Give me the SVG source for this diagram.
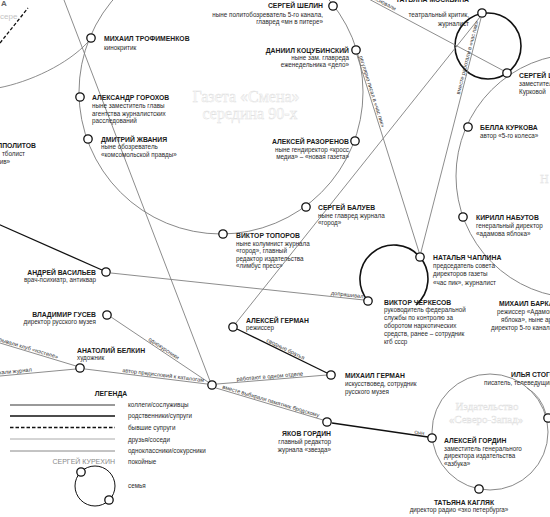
<svg xmlns="http://www.w3.org/2000/svg" width="550" height="517" viewBox="0 0 550 517">
<style>
text{font-family:"Liberation Sans",Arial,sans-serif;fill:#1a1a1a}
.nm{font-size:6.8px;font-weight:bold}
.sb{font-size:6.3px;fill:#2a2a2a}
.lb{font-size:5.6px;fill:#333}
.e{text-anchor:end}
.m{text-anchor:middle}
.nd{fill:#fff;stroke:#111;stroke-width:1.3}
.ring{fill:none;stroke:#7a7a7a;stroke-width:0.9}
.fam{fill:none;stroke:#111;stroke-width:1.6}
.g{fill:none;stroke:#808080;stroke-width:0.9}
.k{fill:none;stroke:#111;stroke-width:1.3}
.d{fill:none;stroke:#111;stroke-width:1.3;stroke-dasharray:3.5 2}
.faint{font-family:"Liberation Serif",serif;fill:#fff;stroke:#e0e0e0;stroke-width:0.45}
</style>
<rect width="550" height="517" fill="#fff"/>

<g id="background-titles">
<text class="faint m" x="246" y="102" font-size="16">Газета «Смена»</text>
<text class="faint m" x="250" y="119" font-size="16">середина 90-х</text>
<text class="faint m" x="487" y="410" font-size="11">Издательство</text>
<text class="faint m" x="486" y="423" font-size="11">«Северо-Запад»</text>
<text class="faint" x="540" y="183" font-size="12">Н</text>
<text x="1" y="6" font-size="8" font-weight="bold" style="fill:#666">А</text>
<text x="0" y="19" font-size="8" style="fill:#c4c4c4">сере</text>
</g>

<g id="connectors">
<circle class="ring" cx="221" cy="92" r="142"/>
<circle class="ring" cx="578" cy="176" r="122"/>
<circle class="ring" cx="490" cy="432" r="58"/>
<circle class="fam" cx="488" cy="46" r="33"/>
<path class="fam" d="M368,301 A34,34 0 1 1 415.9,305"/>
<path class="g" d="M-2,88 C30,82 68,64 88,42"/>
<path class="d" d="M0,43 L28,8"/>
<path class="g" d="M64,0 L210,381"/>
<path class="g" d="M236,323 L480,17"/>
<path class="g" d="M357,55 L419,252"/>
<path class="g" d="M481,18 L421,252"/>
<path class="g" d="M335,-19 L504,71"/>
<path class="k" d="M-2,224 L102,270"/>
<path class="g" d="M111,273 L364,300"/>
<path class="g" d="M111,317 L208,382"/>
<path class="g" d="M85,369 L207,384"/>
<path class="g" d="M0,343 L76,366"/>
<path class="g" d="M0,376 L76,369"/>
<path class="k" d="M237,329 L327,373"/>
<path class="g" d="M217,384 L327,375"/>
<path class="g" d="M216,388 L323,420"/>
<path class="k" d="M332,423 L428,437"/>
<path class="g" d="M527,388 Q541,396 546,414"/>
<text class="lb m" transform="translate(384,5) rotate(28)">основали</text>
<text class="lb m" transform="translate(370.2,92) rotate(72.5)">регулярно писал в «час пик»</text>
<text class="lb m" transform="translate(469.1,58.1) rotate(-75.6)">вместе работали в «час пик»</text>
<text class="lb m" transform="translate(347,296.5) rotate(6.1)">допрашивал</text>
<text class="lb m" transform="translate(162.8,350) rotate(33.8)">однокурсники</text>
<text class="lb e" transform="translate(57.4,358.8) rotate(16.8)">открывали клуб «нэстеле»</text>
<text class="lb e" transform="translate(31.9,371.5) rotate(-5.3)">выпускали журнал</text>
<text class="lb m" transform="translate(163,377) rotate(7)">автор предисловий к каталогам</text>
<text class="lb m" transform="translate(284.7,350.6) rotate(26)">сводные братья</text>
<text class="lb m" transform="translate(269.9,378.2) rotate(-4.7)">работают в одном отделе</text>
<text class="lb m" transform="translate(270.4,402.8) rotate(16.6)">вместе выбирали памятник бродскому</text>
<text class="lb m" transform="translate(419.2,434.2) rotate(8.3)">сын</text>
</g>

<g id="trofimenkov"><circle class="nd" cx="91" cy="38" r="4.2"/><text class="nm" x="104" y="41">МИХАИЛ ТРОФИМЕНКОВ</text><text class="sb" x="104" y="49.5">кинокритик</text></g>
<g id="gorokhov"><circle class="nd" cx="80" cy="97" r="4.2"/><text class="nm" x="92" y="100">АЛЕКСАНДР ГОРОХОВ</text><text class="sb" x="92" y="108">ныне заместитель главы</text><text class="sb" x="92" y="115.5">агентства журналистских</text><text class="sb" x="92" y="123">расследований</text></g>
<g id="zhvania"><circle class="nd" cx="88" cy="139" r="4.2"/><text class="nm" x="101" y="141.5">ДМИТРИЙ ЖВАНИЯ</text><text class="sb" x="101" y="149">ныне обозреватель</text><text class="sb" x="101" y="156.5">«комсомольской правды»</text></g>
<g id="ippolitov"><text class="nm e" x="36" y="148">ППОЛИТОВ</text><text class="sb e" x="25" y="156">тболист</text><text class="sb e" x="10" y="164">ив»</text></g>
<g id="shelin"><circle class="nd" cx="333" cy="6" r="4.2"/><text class="nm e" x="323" y="8">СЕРГЕЙ ШЕЛИН</text><text class="sb e" x="323" y="16.5">ныне политобозреватель 5-го канала,</text><text class="sb e" x="323" y="24">главред «мн в питере»</text></g>
<g id="kotsubinsky"><circle class="nd" cx="356" cy="50" r="4.2"/><text class="nm e" x="349" y="52.5">ДАНИИЛ КОЦУБИНСКИЙ</text><text class="sb e" x="349" y="60">ныне зам. главреда</text><text class="sb e" x="349" y="67">еженедельника «дело»</text></g>
<g id="razorenov"><circle class="nd" cx="355" cy="141" r="4.2"/><text class="nm e" x="349" y="144">АЛЕКСЕЙ РАЗОРЕНОВ</text><text class="sb e" x="349" y="151.5">ныне гендиректор «кросс</text><text class="sb e" x="349" y="158.5">медиа» – «новая газета»</text></g>
<g id="baluev"><circle class="nd" cx="306" cy="207" r="4.2"/><text class="nm" x="318" y="210">СЕРГЕЙ БАЛУЕВ</text><text class="sb" x="318" y="217.5">ныне главред журнала</text><text class="sb" x="318" y="224.5">«город»</text></g>
<g id="toporov"><circle class="nd" cx="223" cy="234" r="4.2"/><text class="nm" x="236" y="238">ВИКТОР ТОПОРОВ</text><text class="sb" x="236" y="245.5">ныне колумнист журнала</text><text class="sb" x="236" y="253">«город», главный</text><text class="sb" x="236" y="260.5">редактор издательства</text><text class="sb" x="236" y="268">«лимбус пресс»</text></g>
<g id="moskvina"><circle class="nd" cx="482" cy="13" r="4.2"/><text class="nm e" x="469" y="2">ТАТЬЯНА МОСКВИНА</text><text class="sb e" x="469" y="17">театральный критик,</text><text class="sb e" x="469" y="25.5">журналист</text></g>
<g id="sholokhov"><circle class="nd" cx="507" cy="73" r="4.2"/><text class="nm" x="519" y="77.5">СЕРГЕЙ ШОЛОХОВ</text><text class="sb" x="519" y="85.5">заместитель</text><text class="sb" x="519" y="93.5">Курковой</text></g>
<g id="kurkova"><circle class="nd" cx="468" cy="127" r="4.2"/><text class="nm" x="480" y="130">БЕЛЛА КУРКОВА</text><text class="sb" x="480" y="138">автор «5-го колеса»</text></g>
<g id="nabutov"><circle class="nd" cx="463" cy="217" r="4.2"/><text class="nm" x="476" y="220">КИРИЛЛ НАБУТОВ</text><text class="sb" x="476" y="228">генеральный директор</text><text class="sb" x="476" y="235.5">«адамова яблока»</text></g>
<g id="chaplina"><circle class="nd" cx="420" cy="257" r="4.2"/><text class="nm" x="433" y="260">НАТАЛЬЯ ЧАПЛИНА</text><text class="sb" x="433" y="267.5">председатель совета</text><text class="sb" x="433" y="276">директоров газеты</text><text class="sb" x="433" y="284.5">«час пик», журналист</text></g>
<g id="cherkesov"><circle class="nd" cx="368" cy="301" r="4.2"/><text class="nm" x="384" y="304.5">ВИКТОР ЧЕРКЕСОВ</text><text class="sb" x="384" y="312">руководитель федеральной</text><text class="sb" x="384" y="320">службы по контролю за</text><text class="sb" x="384" y="328">оборотом наркотических</text><text class="sb" x="384" y="336">средств, ранее – сотрудник</text><text class="sb" x="384" y="344">кгб ссср</text></g>
<g id="barkan"><text class="nm" x="499" y="305.5">МИХАИЛ БАРКАН</text><text class="sb" x="497" y="313.5">режиссер «Адамова</text><text class="sb" x="501" y="321.5">яблока», ныне арт-</text><text class="sb" x="491" y="329.5">директор 5-го канала</text></g>
<g id="vasiliev"><circle class="nd" cx="106" cy="272" r="4.2"/><text class="nm e" x="96" y="274.5">АНДРЕЙ ВАСИЛЬЕВ</text><text class="sb e" x="96" y="281.5">врач-психиатр, антиквар</text></g>
<g id="gusev"><circle class="nd" cx="107" cy="315" r="4.2"/><text class="nm e" x="96" y="316.5">ВЛАДИМИР ГУСЕВ</text><text class="sb e" x="96" y="324">директор русского музея</text></g>
<g id="belkin"><circle class="nd" cx="80" cy="368" r="4.2"/><text class="nm" x="77" y="352.5">АНАТОЛИЙ БЕЛКИН</text><text class="sb" x="77" y="359.5">художник</text></g>
<g id="a-german"><circle class="nd" cx="233" cy="327" r="4.2"/><text class="nm" x="246" y="322.5">АЛЕКСЕЙ ГЕРМАН</text><text class="sb" x="246" y="330">режиссер</text></g>
<g id="m-german"><circle class="nd" cx="331" cy="375" r="4.2"/><text class="nm" x="345" y="378">МИХАИЛ ГЕРМАН</text><text class="sb" x="345" y="386">искусствовед, сотрудник</text><text class="sb" x="345" y="394">русского музея</text></g>
<g id="hub"><circle class="nd" cx="212" cy="385" r="4.2"/></g>
<g id="ya-gordin"><circle class="nd" cx="327" cy="422" r="4.2"/><text class="nm e" x="331" y="436">ЯКОВ ГОРДИН</text><text class="sb e" x="331" y="444">главный редактор</text><text class="sb e" x="331" y="451.5">журнала «звезда»</text></g>
<g id="a-gordin"><circle class="nd" cx="432" cy="438" r="4.2"/><text class="nm" x="444" y="442.5">АЛЕКСЕЙ ГОРДИН</text><text class="sb" x="444" y="450.5">заместитель генерального</text><text class="sb" x="444" y="458">директора издательства</text><text class="sb" x="444" y="466">«азбука»</text></g>
<g id="kaglyak"><circle class="nd" cx="479" cy="489" r="4.2"/><text class="nm m" x="464" y="504.5">ТАТЬЯНА КАГЛЯК</text><text class="sb m" x="459" y="512">директор радио «эхо петербурга»</text></g>
<g id="stogov"><text class="nm" x="511" y="377">ИЛЬЯ СТОГОВ</text><text class="sb" x="484" y="385">писатель, телеведущий</text></g>
<g id="right-node"><circle class="nd" cx="548" cy="418" r="4.2"/></g>

<g id="legend">
<text class="nm m" x="111" y="396">ЛЕГЕНДА</text>
<line x1="10" y1="405" x2="115" y2="405" stroke="#999" stroke-width="2"/>
<line x1="10" y1="416" x2="115" y2="416" stroke="#111" stroke-width="1.4"/>
<line x1="10" y1="427.5" x2="115" y2="427.5" stroke="#111" stroke-width="1.4" stroke-dasharray="3.5 2"/>
<line x1="10" y1="439" x2="115" y2="439" stroke="#aaa" stroke-width="1"/>
<line x1="10" y1="451" x2="115" y2="451" stroke="#888" stroke-width="1"/>
<text class="sb" x="128" y="407">коллеги/сослуживцы</text>
<text class="sb" x="128" y="418">родственники/супруги</text>
<text class="sb" x="128" y="429.5">бывшие супруги</text>
<text class="sb" x="128" y="441.5">друзья/соседи</text>
<text class="sb" x="128" y="453">одноклассники/сокурсники</text>
<text class="e" x="115" y="464" font-size="7" style="fill:#8a8a8a">СЕРГЕЙ КУРЕХИН</text>
<text class="sb" x="128" y="463.5">покойные</text>
<circle cx="95" cy="486" r="20" fill="none" stroke="#111" stroke-width="1"/>
<circle class="nd" cx="81" cy="472" r="4.2"/>
<circle class="nd" cx="109" cy="500" r="4.2"/>
<text class="sb" x="128" y="488">семья</text>
</g>
</svg>
